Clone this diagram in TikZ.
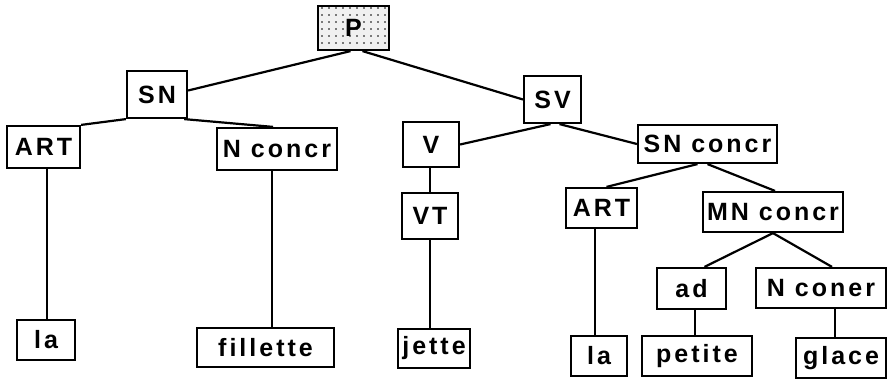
\documentclass[tikz,border=0pt]{standalone}
\usepackage{fontspec}
\setmainfont{Liberation Sans}[LetterSpace=12,BoldFont={* Bold}]
\usetikzlibrary{patterns.meta}
\tikzset{
  box/.style={draw, line width=2.2pt, inner sep=0pt, font=\fontsize{25}{29}\selectfont\bfseries},
  link/.style={line width=2.2pt},
}
\begin{document}
\begin{tikzpicture}[x=1pt,y=-1pt]
\useasboundingbox (0,0) rectangle (888,379);
% nodes
\node[box, minimum width=71pt, minimum height=44pt, preaction={fill=gray!12}, pattern={Dots[distance=7pt,radius=0.9pt]}] (P) at (353.5,28) {P};
\node[box, minimum width=60pt, minimum height=47pt] (SN) at (157,94.5) {SN};
\node[box, minimum width=57pt, minimum height=47pt] (SV) at (552.5,99.5) {SV};
\node[box, minimum width=73pt, minimum height=42pt] (ARTa) at (43.5,147) {ART};
\node[box, minimum width=120pt, minimum height=42pt] (Nconcr) at (277,149) {N concr};
\node[box, minimum width=56pt, minimum height=45pt] (V) at (431,144.5) {V};
\node[box, minimum width=139pt, minimum height=38pt] (SNconcr) at (707.5,144) {SN concr};
\node[box, minimum width=56pt, minimum height=46pt] (VT) at (430,216) {VT};
\node[box, minimum width=71pt, minimum height=40pt] (ARTb) at (601.5,208) {ART};
\node[box, minimum width=140pt, minimum height=40pt] (MNconcr) at (773,212) {MN concr};
\node[box, minimum width=69pt, minimum height=41pt] (ad) at (691.5,288.5) {ad};
\node[box, minimum width=130pt, minimum height=40pt] (Nconer) at (821,288) {N coner};
\node[box, minimum width=58pt, minimum height=40pt] (laa) at (46,340) {la};
\node[box, minimum width=137pt, minimum height=39pt] (fillette) at (265.5,347.5) {fillette};
\node[box, minimum width=72pt, minimum height=39pt] (jette) at (434,348.5) {jette};
\node[box, minimum width=56pt, minimum height=40pt] (lab) at (599,356) {la};
\node[box, minimum width=110pt, minimum height=40pt] (petite) at (697,356) {petite};
\node[box, minimum width=90pt, minimum height=40pt] (glace) at (841,358) {glace};
% connectors
\draw[link] ([xshift=-3pt]P.south) -- ([yshift=4pt]SN.east);
\draw[link] ([xshift=9pt]P.south) -- (SV.west);
\draw[link] (SN.south west) -- (ARTa.north east);
\draw[link] ([xshift=-4pt]SN.south east) -- ([xshift=-4pt]Nconcr.north);
\draw[link] ([xshift=3.5pt]ARTa.south) -- ([xshift=3.5pt]ARTa.south |- laa.north);
\draw[link] ([xshift=-5pt]Nconcr.south) -- ([xshift=-5pt]Nconcr.south |- fillette.north);
\draw[link] ([xshift=-2pt]SV.south) -- (V.east);
\draw[link] ([xshift=7pt]SV.south) -- (SNconcr.west);
\draw[link] ([xshift=-1pt]V.south) -- ([xshift=-1pt]V.south |- VT.north);
\draw[link] (VT.south) -- (VT.south |- jette.north);
\draw[link] ([xshift=-10pt]SNconcr.south) -- ([xshift=5pt]ARTb.north);
\draw[link] (SNconcr.south) -- ([xshift=2pt]MNconcr.north);
\draw[link] ([xshift=-6.5pt]ARTb.south) -- ([xshift=-6.5pt]ARTb.south |- lab.north);
\draw[link] (MNconcr.south) -- ([xshift=13pt]ad.north);
\draw[link] (MNconcr.south) -- ([xshift=11pt]Nconer.north);
\draw[link] ([xshift=3.5pt]ad.south) -- ([xshift=3.5pt]ad.south |- petite.north);
\draw[link] ([xshift=14pt]Nconer.south) -- ([xshift=14pt]Nconer.south |- glace.north);
\end{tikzpicture}
\end{document}
